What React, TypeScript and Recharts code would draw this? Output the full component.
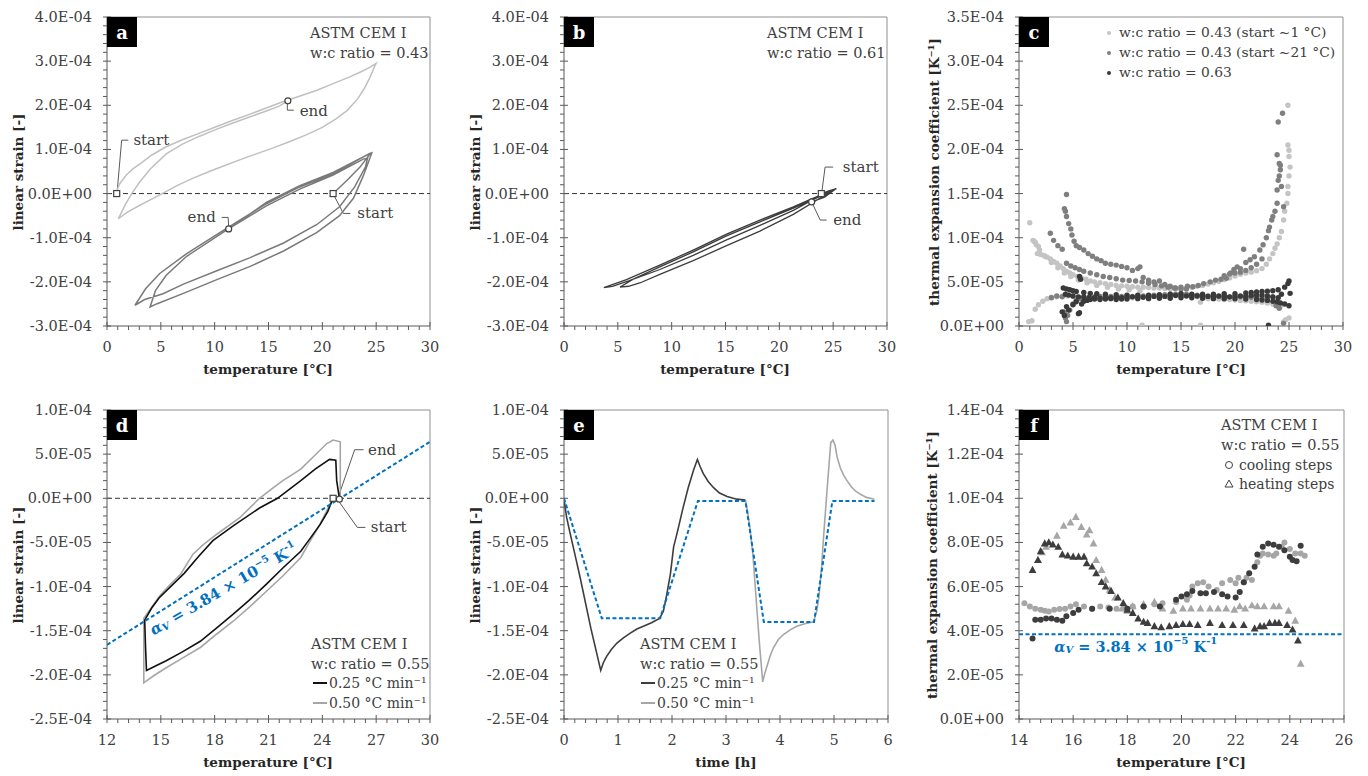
import React from 'react';
import { ComposedChart, Scatter, XAxis, YAxis, ReferenceLine, ReferenceDot } from 'recharts';

type Pt = [number, number];

// ---------- panel a : linear strain [1e-4] vs temperature, w:c 0.43 ----------
const strainA43Cold: Pt[] = [
  [0.9, 0.0], [1.0, 0.12], [1.2, 0.23], [1.8, 0.42], [2.4, 0.56], [3.1, 0.68], [4.2, 0.88], [5.5, 1.06],
  [7.0, 1.22], [8.6, 1.37], [10.2, 1.52], [11.7, 1.66], [13.3, 1.8], [14.8, 1.94], [16.2, 2.07], [17.8, 2.2],
  [19.5, 2.34], [21.0, 2.49], [22.6, 2.65], [23.6, 2.76], [24.4, 2.86], [25.0, 2.95],
  [24.8, 2.85], [24.4, 2.62], [23.9, 2.38], [23.3, 2.15], [22.3, 1.88], [21.2, 1.68], [20.0, 1.5], [18.5, 1.33],
  [17.0, 1.18], [15.5, 1.04], [14.0, 0.91], [12.5, 0.78], [11.0, 0.64], [9.5, 0.5], [8.0, 0.35], [6.5, 0.18],
  [5.3, 0.02], [4.2, -0.12], [3.0, -0.27], [1.9, -0.42], [1.05, -0.57],
  [1.3, -0.45], [1.7, -0.25], [2.3, 0.0], [3.0, 0.25], [4.0, 0.55], [5.5, 0.9], [7.0, 1.12], [8.6, 1.3],
  [10.2, 1.46], [11.7, 1.6], [13.3, 1.74], [14.8, 1.87], [16.0, 1.98], [16.8, 2.1],
];
const strainA43Warm: Pt[] = [
  [21.0, 0.0], [22.3, 0.3], [23.5, 0.6], [24.5, 0.92],
  [24.1, 0.87], [21.0, 0.45], [17.9, 0.15], [14.8, -0.23], [11.1, -0.79], [7.4, -1.36], [4.9, -1.81], [3.6, -2.15], [2.6, -2.53],
  [3.5, -2.4], [5.2, -2.27], [7.1, -2.05], [10.2, -1.75], [13.3, -1.45], [16.4, -1.12], [19.5, -0.7], [21.6, -0.3],
  [23.0, 0.15], [24.0, 0.6], [24.2, 0.8],
  [23.8, 0.78], [21.0, 0.42], [17.9, 0.1], [14.8, -0.28], [11.1, -0.83], [7.4, -1.42], [5.5, -1.85], [4.5, -2.2], [4.0, -2.57],
  [4.6, -2.5], [7.1, -2.26], [10.2, -1.95], [13.3, -1.65], [16.4, -1.3], [19.5, -0.88], [21.6, -0.5], [22.9, -0.1],
  [23.8, 0.4], [24.6, 0.92],
  [24.2, 0.88], [21.0, 0.48], [17.9, 0.18], [14.8, -0.2], [11.3, -0.8],
];

// ---------- panel b : w:c 0.61 ----------
const strainB61: Pt[] = [
  [23.9, 0.0], [24.6, 0.06], [25.3, 0.11],
  [23.0, -0.12], [21.3, -0.3], [18.2, -0.6], [15.1, -0.92], [12.0, -1.28], [8.9, -1.62], [5.8, -1.95], [3.7, -2.13],
  [4.5, -2.1], [6.0, -1.98], [8.9, -1.72], [12.0, -1.4], [15.1, -1.05], [18.2, -0.72], [21.3, -0.38], [23.8, -0.05], [25.1, 0.08],
  [23.0, -0.15], [21.3, -0.33], [18.2, -0.64], [15.1, -0.96], [12.0, -1.32], [8.9, -1.66], [6.5, -1.93], [5.2, -2.12],
  [6.0, -2.1], [7.1, -2.02], [8.9, -1.83], [12.0, -1.52], [15.1, -1.18], [18.2, -0.85], [21.3, -0.47], [23.8, -0.1], [25.2, 0.1],
  [24.2, -0.08], [23.0, -0.19],
];

// ---------- panel c : thermal expansion coefficient [1e-5 K-1] ----------
const cteC43Cold: Pt[] = [
  [1.0, 11.7], [1.3, 9.7], [1.5, 9.5], [1.6, 9.2], [1.8, 9.0], [1.7, 8.2], [2.0, 8.1], [2.3, 8.0], [2.6, 7.8], [2.9, 7.6],
  [3.2, 7.3], [3.5, 7.1], [3.8, 6.8], [4.1, 6.5], [4.4, 6.2], [4.7, 6.0], [5.0, 5.8], [5.4, 5.6], [5.8, 5.45], [6.2, 5.3],
  [6.6, 5.1], [7.0, 5.0], [7.5, 4.9], [8.0, 4.8], [8.5, 4.7], [9.0, 4.6], [9.5, 4.55], [10.0, 4.5], [10.5, 4.45], [11.0, 4.4],
  [11.5, 4.4], [12.0, 4.35], [12.5, 4.3], [13.0, 4.3], [13.5, 4.25], [14.0, 4.2], [14.5, 4.2], [15.0, 4.25], [15.5, 4.3],
  [16.0, 4.4], [16.5, 4.5], [17.0, 4.6], [17.5, 4.75], [18.0, 4.9], [18.5, 5.05], [19.0, 5.25], [19.5, 5.45], [20.0, 5.65],
  [20.5, 5.85], [21.0, 6.0], [21.5, 6.1], [22.0, 6.25], [22.5, 6.5], [22.9, 7.0], [23.2, 7.6], [23.5, 8.2], [23.7, 8.8],
  [23.9, 9.3], [24.1, 10.0], [24.3, 10.7], [24.5, 12.0], [24.6, 13.0], [24.8, 13.9], [24.9, 15.0], [24.9, 15.8], [25.0, 17.0],
  [25.1, 18.0], [25.0, 19.2], [25.0, 19.9], [24.9, 20.5], [24.9, 25.0],
  [1.4, 9.6], [1.9, 8.6], [2.4, 7.9], [3.0, 7.2], [3.6, 6.6], [4.2, 6.0], [4.8, 5.6], [5.5, 5.2], [6.3, 4.9], [7.2, 4.6],
  [8.2, 4.4], [9.2, 4.2], [10.2, 4.1], [11.2, 4.0],
  [0.9, 0.5], [1.2, 0.6], [1.5, 1.9], [1.8, 2.4], [2.2, 2.8], [2.6, 3.1], [3.0, 3.25], [3.5, 3.3], [4.0, 3.4], [4.5, 3.4],
  [5.0, 3.35], [5.5, 3.3], [6.0, 3.3], [6.5, 3.25], [7.0, 3.3], [7.5, 3.25], [8.0, 3.2], [8.5, 3.25], [9.0, 3.2], [9.5, 3.2],
  [10.0, 3.2], [10.5, 3.2], [11.0, 3.25], [11.5, 3.3], [12.0, 3.3], [12.5, 3.35], [13.0, 3.4], [13.5, 3.4], [14.0, 3.4],
  [14.5, 3.5], [15.0, 3.5], [15.5, 3.45], [16.0, 3.4], [16.5, 3.3], [16.8, 2.7], [17.0, 3.2], [17.5, 3.1], [18.0, 3.1],
  [18.5, 3.05], [19.0, 3.0], [19.5, 3.0], [20.0, 2.95], [20.5, 2.9], [21.0, 2.85], [21.5, 2.8], [22.0, 2.75], [22.5, 2.7],
  [23.0, 2.6], [23.5, 2.5], [23.9, 2.35], [24.2, 2.2], [24.5, 0.5], [24.7, 0.7], [25.0, 0.9], [11.4, 0.1], [16.8, 0.1],
];
const cteC43Warm: Pt[] = [
  [2.9, 10.5], [3.2, 9.7], [3.6, 9.1], [4.0, 8.7], [4.2, 13.3], [4.3, 13.0], [4.4, 14.9], [4.4, 12.4], [4.6, 11.6], [4.8, 11.0],
  [4.9, 10.3], [5.1, 9.6], [5.3, 9.1], [5.6, 8.9], [6.0, 8.6], [6.4, 8.2], [6.8, 7.9], [7.2, 7.6], [7.6, 7.4], [8.0, 7.1],
  [8.5, 7.0], [9.0, 6.9], [9.5, 6.75], [10.0, 6.6], [10.5, 6.3], [11.0, 6.5], [11.2, 6.7], [11.5, 5.5], [12.0, 5.2],
  [12.5, 5.0], [13.0, 5.1], [13.5, 4.7], [14.0, 4.5], [14.5, 4.3], [15.0, 4.2], [15.5, 4.2],
  [4.4, 7.1], [4.8, 6.8], [5.2, 6.6], [5.6, 6.4], [6.0, 6.2], [6.6, 6.0], [7.2, 5.8], [7.8, 5.6], [8.4, 5.5], [9.0, 5.35],
  [9.6, 5.2], [10.2, 5.15], [10.8, 5.1], [11.4, 5.0], [12.0, 4.85], [12.6, 4.7], [13.2, 4.55], [13.8, 4.4], [14.4, 4.3],
  [15.0, 4.4], [15.6, 4.5], [16.1, 4.45], [16.6, 4.6], [17.1, 4.8], [17.7, 5.0], [18.2, 5.2], [18.7, 5.3], [19.2, 5.4],
  [19.6, 6.0], [19.9, 6.4], [20.2, 6.7], [20.5, 6.5], [20.8, 8.7], [21.0, 7.2], [21.4, 7.5], [21.8, 7.85], [22.3, 8.6],
  [22.6, 9.2], [22.9, 10.0], [23.1, 10.8], [23.2, 11.2], [23.4, 12.0], [23.5, 12.4], [23.7, 13.0], [23.9, 13.9], [23.9, 15.4],
  [24.0, 16.5], [24.1, 17.0], [24.1, 18.4], [24.2, 17.7], [23.9, 19.4], [24.0, 23.1], [24.4, 24.1], [24.3, 15.8], [24.5, 13.5],
  [24.2, 18.2], [19.0, 5.7], [19.5, 5.9], [20.0, 6.0], [20.5, 6.1], [21.0, 6.3], [21.5, 6.6], [22.0, 7.0], [22.5, 7.6],
  [3.0, 3.2], [3.5, 3.4], [4.0, 3.3], [4.2, 1.6], [4.3, 0.9], [4.4, 0.5], [4.5, 1.2], [4.7, 1.8], [5.0, 2.5], [5.3, 2.9],
  [5.6, 3.1], [6.0, 3.2], [6.5, 3.3], [7.0, 3.3], [7.5, 3.35], [8.0, 3.3], [8.5, 3.35], [9.0, 3.3], [9.5, 3.35], [10.0, 3.4],
  [10.5, 3.35], [11.0, 3.4], [11.5, 3.4], [12.0, 3.45], [12.5, 3.5], [13.0, 3.5], [13.5, 3.55], [14.0, 3.6], [14.5, 3.6],
  [15.0, 3.65], [15.5, 3.6], [16.0, 3.55], [16.5, 3.5], [17.0, 3.45], [17.5, 3.4], [18.0, 3.4], [18.5, 3.35], [19.0, 3.35],
  [19.5, 3.3], [20.0, 3.3], [20.5, 3.3], [21.0, 3.3], [21.5, 3.25], [22.0, 3.25], [22.5, 3.2], [23.0, 3.2], [23.5, 3.3],
  [23.8, 2.3], [24.1, 2.0], [24.5, 0.3],
];
const cteC63: Pt[] = [
  [4.1, 4.3], [4.4, 4.2], [4.7, 4.1], [5.0, 4.0], [5.3, 3.9], [5.6, 5.6], [5.7, 5.3], [6.0, 3.8], [6.6, 3.7], [7.2, 3.65],
  [8.0, 3.6], [9.0, 3.55], [10.0, 3.5], [11.0, 3.5], [12.0, 3.5], [13.0, 3.55], [14.0, 3.6], [15.0, 3.65], [16.0, 3.6],
  [17.0, 3.6], [18.0, 3.6], [19.0, 3.65], [20.0, 3.65], [21.0, 3.75], [21.5, 3.8], [22.0, 3.85], [22.5, 3.9], [23.0, 3.95],
  [23.5, 4.0], [24.0, 4.1], [24.3, 3.6], [24.6, 4.4], [24.9, 4.8], [25.0, 5.1], [25.1, 3.7],
  [4.3, 3.6], [4.6, 3.5], [5.0, 3.4], [5.5, 3.3], [6.0, 3.3], [6.5, 3.2], [7.0, 3.2], [7.5, 3.15], [8.0, 3.2], [8.5, 3.2],
  [9.0, 3.25], [9.5, 3.2], [10.0, 3.25], [10.5, 3.3], [11.0, 3.3], [11.5, 3.25], [12.0, 3.3], [12.5, 3.35], [13.0, 3.3],
  [13.5, 3.35], [14.0, 3.4], [14.5, 3.45], [15.0, 3.4], [15.5, 3.4], [16.0, 3.45], [16.5, 3.4], [17.0, 3.4], [17.5, 3.35],
  [18.0, 3.35], [18.5, 3.4], [19.0, 3.35], [19.5, 3.3], [20.0, 3.35], [20.5, 3.4], [21.0, 3.35], [21.5, 3.45], [22.0, 3.5],
  [22.5, 3.5], [23.0, 3.4], [23.5, 3.3], [24.0, 3.2],
  [4.0, 1.6], [4.2, 1.2], [4.4, 2.2], [4.6, 1.8], [5.0, 2.4], [5.3, 2.75], [5.5, 1.4], [5.6, 1.5], [5.8, 2.5], [6.0, 2.8],
  [6.3, 2.9], [6.6, 3.0], [7.0, 3.05], [7.5, 3.0], [8.0, 3.05], [8.5, 3.1], [9.0, 3.0], [9.5, 3.05], [10.0, 3.05],
  [11.0, 3.1], [12.0, 3.1], [13.0, 3.15], [14.0, 3.15], [15.0, 3.2], [16.0, 3.2], [17.0, 3.15], [18.0, 3.1], [19.0, 3.1],
  [20.0, 3.1], [21.0, 3.05], [22.0, 3.0], [22.5, 2.95], [23.0, 2.9], [23.5, 2.8], [23.9, 2.75], [24.2, 2.6], [24.6, 2.5],
  [25.0, 2.3], [23.1, 0.1],
];

// ---------- panel d : linear strain [1e-5] vs temperature, w:c 0.55 ----------
const strainD025: Pt[] = [
  [24.6, 0.0], [24.3, -1.5], [23.9, -2.9], [23.3, -4.6], [22.8, -6.0], [21.8, -7.9], [20.9, -9.7], [19.9, -11.6],
  [19.05, -13.1], [18.1, -14.7], [17.2, -16.2], [16.2, -17.4], [15.3, -18.4], [14.7, -19.0], [14.2, -19.5], [14.15, -17.0],
  [14.1, -13.8], [14.5, -12.4], [14.9, -11.3], [15.6, -9.9], [16.3, -8.5], [17.1, -6.6], [17.9, -4.8], [19.05, -3.1],
  [20.5, -1.1], [21.5, 0.0], [22.8, 2.0], [23.6, 3.3], [24.4, 4.4], [24.75, 4.3], [24.8, 2.0], [24.95, 0.0],
];
const strainD050: Pt[] = [
  [24.6, 0.0], [24.3, -1.2], [23.8, -3.2], [23.3, -4.9], [22.8, -6.7], [21.8, -8.8], [20.9, -10.5], [19.95, -12.3],
  [19.05, -13.9], [18.1, -15.4], [17.2, -16.9], [16.2, -18.1], [15.3, -19.2], [14.6, -20.1], [14.05, -20.9], [14.05, -17.0],
  [14.05, -13.6], [14.5, -12.3], [15.0, -10.9], [15.6, -9.6], [16.1, -8.6], [16.8, -6.3], [17.4, -5.2], [18.1, -4.1],
  [19.4, -2.2], [20.5, 0.0], [21.2, 1.1], [21.8, 2.0], [22.8, 3.3], [23.5, 4.7], [24.25, 6.2], [24.6, 6.6], [25.0, 6.4],
  [25.0, 3.0], [25.0, 0.0],
];
const fitD: Pt[] = [[12, -16.6], [30, 6.4]];

// ---------- panel e : linear strain [1e-5] vs time [h] ----------
const timeE025: Pt[] = [
  [0, 0], [0.02, -1.0], [0.05, -2.2], [0.1, -3.6], [0.2, -6.3], [0.3, -9.0], [0.4, -11.9], [0.5, -14.8], [0.6, -17.4],
  [0.68, -19.5], [0.73, -18.6], [0.79, -17.9], [0.88, -17.1], [0.98, -16.4], [1.1, -15.8], [1.22, -15.3], [1.35, -14.8],
  [1.47, -14.5], [1.62, -14.1], [1.77, -13.6], [1.84, -12.8], [1.9, -11.0], [1.97, -8.6], [2.03, -5.5], [2.1, -3.8],
  [2.2, -1.2], [2.3, 1.2], [2.4, 3.2], [2.47, 4.4], [2.52, 3.6], [2.58, 2.8], [2.67, 1.9], [2.77, 1.2], [2.88, 0.6],
  [3.02, 0.2], [3.2, -0.1], [3.36, -0.2],
];
const timeE050: Pt[] = [
  [3.36, -0.2], [3.4, -1.5], [3.45, -3.7], [3.5, -6.5], [3.57, -12.4], [3.62, -16.5], [3.68, -20.8], [3.72, -19.8],
  [3.76, -19.0], [3.82, -17.8], [3.88, -16.9], [3.97, -16.0], [4.07, -15.4], [4.19, -14.9], [4.31, -14.5], [4.46, -14.2],
  [4.62, -14.0], [4.68, -12.8], [4.72, -11.2], [4.77, -7.8], [4.81, -4.1], [4.87, 0.8], [4.91, 4.0], [4.94, 6.3],
  [4.98, 6.6], [5.02, 6.0], [5.06, 4.6], [5.12, 3.4], [5.18, 2.6], [5.24, 2.0], [5.32, 1.3], [5.4, 0.8], [5.49, 0.45],
  [5.6, 0.1], [5.75, -0.1],
];
const progE: Pt[] = [
  [0, 0], [0.7, -13.6], [1.78, -13.6], [2.48, -0.3], [3.36, -0.3], [3.7, -14.0], [4.63, -14.0], [4.97, -0.3], [5.75, -0.3],
];

// ---------- panel f : thermal expansion coefficient [1e-5 K-1], w:c 0.55 ----------
const coolF050: Pt[] = [
  [14.2, 5.25], [14.4, 5.1], [14.6, 5.0], [14.8, 4.95], [14.95, 4.9], [15.1, 4.87], [15.3, 4.95], [15.5, 4.98], [15.7, 5.0],
  [15.9, 5.1], [16.1, 5.2], [16.4, 5.1], [16.7, 5.0], [17.0, 5.1], [17.3, 5.05], [17.6, 5.0], [17.9, 5.05], [18.2, 5.1],
  [18.6, 5.1], [19.0, 5.2], [19.3, 5.25], [19.8, 5.3], [20.2, 5.4], [20.3, 5.6], [20.4, 6.0], [20.6, 6.15], [20.8, 6.2],
  [21.0, 6.0], [21.3, 5.85], [21.5, 6.15], [21.8, 6.3], [22.0, 6.15], [22.1, 6.4], [22.3, 6.2], [22.4, 6.4], [22.6, 6.3],
  [22.8, 7.1], [22.9, 7.4], [23.0, 7.5], [23.2, 7.45], [23.4, 7.4], [23.5, 7.5], [23.7, 7.8], [23.8, 8.0], [24.0, 7.7],
  [24.2, 7.5], [24.4, 7.5], [24.55, 7.4],
];
const coolF025: Pt[] = [
  [14.5, 3.65], [14.6, 4.5], [14.8, 4.5], [15.0, 4.55], [15.2, 4.55], [15.4, 4.5], [15.6, 4.45], [15.75, 4.65], [16.0, 4.8],
  [16.2, 4.95], [16.7, 5.0], [17.35, 5.0], [18.0, 5.0], [18.6, 5.1], [19.2, 5.1], [19.8, 5.4], [20.0, 5.55], [20.2, 5.65],
  [20.4, 5.8], [20.7, 5.7], [20.9, 5.7], [21.2, 5.75], [21.5, 5.65], [21.7, 5.55], [22.0, 5.5], [22.15, 5.75], [22.3, 6.2],
  [22.5, 6.6], [22.7, 6.9], [22.8, 7.45], [23.0, 7.8], [23.2, 7.95], [23.4, 7.9], [23.6, 7.8], [23.8, 7.65], [24.0, 7.35],
  [24.1, 7.2], [24.25, 7.15], [24.4, 7.85],
];
const heatF050: Pt[] = [
  [14.7, 7.2], [14.85, 7.55], [15.0, 7.8], [15.4, 8.3], [15.65, 8.75], [15.9, 8.9], [16.1, 9.15], [16.3, 8.7], [16.5, 8.35],
  [16.6, 8.55], [16.75, 7.95], [16.85, 7.2], [17.05, 6.75], [17.2, 6.3], [17.35, 5.85], [17.55, 5.5], [17.8, 5.0], [18.0, 4.9],
  [18.2, 5.1], [18.6, 5.2], [19.0, 5.3], [19.3, 5.0], [19.7, 4.9], [20.05, 5.0], [20.35, 5.0], [20.7, 5.0], [21.05, 5.0],
  [21.35, 5.0], [21.65, 5.0], [21.95, 4.95], [22.15, 5.1], [22.35, 5.0], [22.6, 5.15], [22.8, 5.1], [23.05, 5.1], [23.4, 5.1],
  [23.6, 5.1], [23.95, 4.9], [24.2, 4.45], [24.4, 2.5],
];
const heatF025: Pt[] = [
  [14.5, 6.75], [14.7, 7.2], [14.8, 7.6], [14.95, 7.95], [15.1, 8.0], [15.25, 7.9], [15.45, 7.8], [15.6, 7.45], [15.8, 7.4],
  [16.0, 7.35], [16.2, 7.35], [16.4, 7.35], [16.5, 7.05], [16.7, 6.9], [16.85, 6.6], [17.05, 6.2], [17.2, 6.0], [17.4, 5.8],
  [17.65, 5.5], [17.85, 5.25], [18.0, 4.95], [18.2, 4.8], [18.4, 4.55], [18.6, 4.4], [18.75, 4.35], [19.0, 4.2], [19.25, 4.15],
  [19.55, 4.2], [19.8, 4.25], [20.05, 4.3], [20.3, 4.3], [20.6, 4.25], [21.05, 4.35], [21.5, 4.25], [21.9, 4.25], [22.3, 4.25],
  [22.7, 4.1], [22.9, 4.2], [23.05, 4.2], [23.25, 4.35], [23.45, 4.35], [23.6, 4.35], [23.9, 4.25], [24.1, 4.05], [24.3, 3.55],
];
const alphaV = 3.84;

// ---------- axis tick values ----------
const tempTicks30 = [0, 5, 10, 15, 20, 25, 30];
const tempTicksD = [12, 15, 18, 21, 24, 27, 30];
const tempTicksF = [14, 16, 18, 20, 22, 24, 26];
const timeTicks = [0, 1, 2, 3, 4, 5, 6];
const strainTicksAB = [-3, -2, -1, 0, 1, 2, 3, 4]; // x1e-4
const cteTicksC = [0, 5, 10, 15, 20, 25, 30, 35]; // x1e-5
const strainTicksDE = [-25, -20, -15, -10, -5, 0, 5, 10]; // x1e-5
const cteTicksF = [0, 2, 4, 6, 8, 10, 12, 14]; // x1e-5

const SERIF = '"DejaVu Serif", "Liberation Serif", serif';
const INK = '#404040';
const AXIS = '#595959';
const FRAME = '#8f8f8f';
const BLUE = '#0070c0';
const LIGHT = '#c0c0c0';
const MID = '#7a7a7a';
const DARK = '#3d3d3d';
const GREY = '#a6a6a6';

const xy = (a: Pt[]) => a.map(([x, y]) => ({ x, y }));

function sci(v: number): string {
  if (Math.abs(v) < 1e-15) return '0.0E+00';
  const e = Math.floor(Math.log10(Math.abs(v)) + 1e-9);
  const m = v / Math.pow(10, e);
  return `${m.toFixed(1)}E${e < 0 ? '-' : '+'}${String(Math.abs(e)).padStart(2, '0')}`;
}

function steps(a: number, b: number, s: number) {
  const n = Math.round((b - a) / s);
  return Array.from({ length: n + 1 }, (_, i) => +(a + i * s).toFixed(6));
}

const isMajor = (major: number[], v: number) => major.some((m) => Math.abs(m - v) < 1e-6);

function XTick(props: any) {
  const { x, y, payload, major, fmt } = props;
  const big = isMajor(major, payload.value);
  return (
    <g>
      <line x1={x} x2={x} y1={big ? y - 4 : y} y2={y + 4} stroke={AXIS} strokeWidth={1} />
      {big && (
        <text x={x} y={y + 21} textAnchor="middle" dominantBaseline="central" fontFamily={SERIF} fontSize={14.5} fill={INK}>
          {fmt(payload.value)}
        </text>
      )}
    </g>
  );
}

function YTick(props: any) {
  const { x, y, payload, major, fmt } = props;
  const big = isMajor(major, payload.value);
  return (
    <g>
      <line x1={x - 4} x2={big ? x + 4 : x} y1={y} y2={y} stroke={AXIS} strokeWidth={1} />
      {big && (
        <text x={x - 15} y={y} textAnchor="end" dominantBaseline="central" fontFamily={SERIF} fontSize={14.5} fill={INK}>
          {fmt(payload.value)}
        </text>
      )}
    </g>
  );
}

const NoDot = () => <g />;
const dot = (fill: string, r: number) => (p: any) => <circle cx={p.cx} cy={p.cy} r={r} fill={fill} />;
const tri = (fill: string) => (p: any) => (
  <polygon points={`${p.cx},${p.cy - 4.2} ${p.cx - 3.9},${p.cy + 2.9} ${p.cx + 3.9},${p.cy + 2.9}`} fill={fill} />
);
const square = (p: any) => <rect x={p.cx - 3} y={p.cy - 3} width={6} height={6} fill="#fff" stroke={INK} strokeWidth={1.2} />;
const ring = (p: any) => <circle cx={p.cx} cy={p.cy} r={3} fill="#fff" stroke={INK} strokeWidth={1.2} />;
const word = (text: string, anchor: 'start' | 'end' = 'start') => (p: any) => (
  <text x={p.cx} y={p.cy} textAnchor={anchor} dominantBaseline="central" fontFamily={SERIF} fontSize={15} fill={INK}>
    {text}
  </text>
);

function AlphaText({ x, y, angle = 0, size = 15 }: { x: number; y: number; angle?: number; size?: number }) {
  const s = Math.round(size * 0.66);
  return (
    <text x={x} y={y} transform={angle ? `rotate(${angle} ${x} ${y})` : undefined} textAnchor={angle ? 'middle' : 'start'}
      dominantBaseline="central" fontFamily={SERIF} fontSize={size} fontWeight="bold" fill={BLUE}>
      <tspan fontStyle="italic">α</tspan>
      <tspan fontSize={s} dy={3} fontStyle="italic">V</tspan>
      <tspan dy={-3}> = 3.84 × 10</tspan>
      <tspan fontSize={s} dy={-6}>−5</tspan>
      <tspan dy={6}> K</tspan>
      <tspan fontSize={s} dy={-6}>-1</tspan>
    </text>
  );
}

function trace(key: string, data: Pt[], color: string, width = 1.5, dash?: string) {
  return (
    <Scatter key={key} data={xy(data)} shape={NoDot} line={{ stroke: color, strokeWidth: width, strokeDasharray: dash }}
      lineType="joint" isAnimationActive={false} />
  );
}

function points(key: string, data: Pt[], shape: (p: any) => React.ReactElement) {
  return <Scatter key={key} data={xy(data)} shape={shape} isAnimationActive={false} />;
}

function leader(key: string, pts: Pt[]) {
  return pts.slice(1).map((p, i) => (
    <ReferenceLine key={`${key}${i}`} segment={[{ x: pts[i][0], y: pts[i][1] }, { x: p[0], y: p[1] }]} stroke={AXIS} strokeWidth={1} />
  ));
}

type PanelProps = {
  left: number;
  top: number;
  plotW: number;
  xDomain: [number, number];
  xMajor: number[];
  xMinor: number;
  yDomain: [number, number];
  yMajor: number[];
  yMinor: number;
  yUnit: number;
  children: React.ReactNode;
};

function Panel({ left, top, plotW, xDomain, xMajor, xMinor, yDomain, yMajor, yMinor, yUnit, children }: PanelProps) {
  return (
    <div style={{ position: 'absolute', left, top }}>
      <ComposedChart width={450} height={390} margin={{ top: 17, right: 450 - 107 - plotW, bottom: 0, left: 0 }}>
        <XAxis type="number" dataKey="x" domain={xDomain} allowDataOverflow ticks={steps(xDomain[0], xDomain[1], xMinor)}
          interval={0} tickLine={false} tickSize={0} tickMargin={0} height={64} axisLine={{ stroke: AXIS }}
          tick={<XTick major={xMajor} fmt={(v: number) => String(v)} />} />
        <YAxis type="number" dataKey="y" domain={yDomain} allowDataOverflow ticks={steps(yDomain[0], yDomain[1], yMinor)}
          interval={0} tickLine={false} tickSize={0} tickMargin={0} width={107} axisLine={{ stroke: AXIS }}
          tick={<YTick major={yMajor} fmt={(v: number) => sci(v * yUnit)} />} />
        <ReferenceLine y={yDomain[1]} stroke={FRAME} />
        <ReferenceLine x={xDomain[1]} stroke={FRAME} />
        {children}
      </ComposedChart>
    </div>
  );
}

function Note({ x, y, children, size = 14.5, bold = false, color = INK, anchor = 'left' }:
  { x: number; y: number; children: React.ReactNode; size?: number; bold?: boolean; color?: string; anchor?: 'left' | 'center' }) {
  return (
    <div style={{
      position: 'absolute', left: x, top: y, transform: anchor === 'center' ? 'translate(-50%, -50%)' : 'translateY(-50%)',
      fontFamily: SERIF, fontSize: size, fontWeight: bold ? 'bold' : 'normal', color, whiteSpace: 'nowrap', lineHeight: 1,
    }}>
      {children}
    </div>
  );
}

function YTitle({ x, y, children }: { x: number; y: number; children: React.ReactNode }) {
  return (
    <div style={{
      position: 'absolute', left: x, top: y, transform: 'translate(-50%, -50%) rotate(-90deg)', fontFamily: SERIF,
      fontSize: 13.5, fontWeight: 'bold', color: '#262626', whiteSpace: 'nowrap', lineHeight: 1,
    }}>
      {children}
    </div>
  );
}

function Tag({ x, y, letter }: { x: number; y: number; letter: string }) {
  return (
    <div style={{
      position: 'absolute', left: x, top: y, width: 30, height: 30, background: '#000', color: '#fff', fontFamily: SERIF,
      fontWeight: 'bold', fontSize: 18, display: 'flex', alignItems: 'center', justifyContent: 'center',
    }}>
      {letter}
    </div>
  );
}

function Swatch({ x, y, color }: { x: number; y: number; color: string }) {
  return <div style={{ position: 'absolute', left: x, top: y - 1, width: 14, height: 2, background: color }} />;
}

function Dot({ x, y, color }: { x: number; y: number; color: string }) {
  return <div style={{ position: 'absolute', left: x - 2, top: y - 2, width: 4, height: 4, borderRadius: 2, background: color }} />;
}

const zeroLine = <ReferenceLine key="zero" y={0} stroke="#333" strokeDasharray="5 3" strokeWidth={1} />;

export default function App() {
  return (
    <div style={{ position: 'absolute', left: 0, top: 0, width: 1368, height: 776, background: '#fff', overflow: 'hidden' }}>
      {/* a */}
      <Panel left={0} top={0} plotW={323} xDomain={[0, 30]} xMajor={tempTicks30} xMinor={1} yDomain={[-3, 4]}
        yMajor={strainTicksAB} yMinor={0.2} yUnit={1e-4}>
        {zeroLine}
        {trace('a1', strainA43Cold, LIGHT, 1.5)}
        {trace('a2', strainA43Warm, MID, 1.5)}
        {leader('la1', [[0.95, 0.06], [1.36, 1.21], [1.98, 1.21]])}
        {leader('la2', [[16.75, 2.04], [16.75, 1.89], [17.35, 1.89]])}
        {leader('la3', [[21.1, -0.05], [21.95, -0.45], [22.6, -0.45]])}
        {leader('la4', [[11.3, -0.74], [11.25, -0.54], [10.65, -0.54]])}
        <ReferenceDot x={0.9} y={0} shape={square} />
        <ReferenceDot x={16.8} y={2.1} shape={ring} />
        <ReferenceDot x={21.0} y={0} shape={square} />
        <ReferenceDot x={11.3} y={-0.8} shape={ring} />
        <ReferenceDot x={2.45} y={1.21} shape={word('start')} />
        <ReferenceDot x={17.9} y={1.87} shape={word('end')} />
        <ReferenceDot x={23.25} y={-0.45} shape={word('start')} />
        <ReferenceDot x={10.1} y={-0.54} shape={word('end', 'end')} />
      </Panel>
      {/* b */}
      <Panel left={457} top={0} plotW={323} xDomain={[0, 30]} xMajor={tempTicks30} xMinor={1} yDomain={[-3, 4]}
        yMajor={strainTicksAB} yMinor={0.2} yUnit={1e-4}>
        {zeroLine}
        {trace('b1', strainB61, DARK, 1.3)}
        {leader('lb1', [[23.95, 0.04], [24.25, 0.6], [25.0, 0.6]])}
        {leader('lb2', [[23.1, -0.24], [23.8, -0.6], [24.4, -0.6]])}
        <ReferenceDot x={23.9} y={0} shape={square} />
        <ReferenceDot x={23.0} y={-0.19} shape={ring} />
        <ReferenceDot x={25.9} y={0.6} shape={word('start')} />
        <ReferenceDot x={25.0} y={-0.61} shape={word('end')} />
      </Panel>
      {/* c */}
      <Panel left={912} top={0} plotW={324} xDomain={[0, 30]} xMajor={tempTicks30} xMinor={1} yDomain={[0, 35]}
        yMajor={cteTicksC} yMinor={1} yUnit={1e-5}>
        {points('c1', cteC43Cold, dot('#c4c4c4', 2.7))}
        {points('c2', cteC43Warm, dot('#7f7f7f', 2.7))}
        {points('c3', cteC63, dot('#3a3a3a', 2.7))}
      </Panel>
      {/* d */}
      <Panel left={0} top={393} plotW={323} xDomain={[12, 30]} xMajor={tempTicksD} xMinor={0.6} yDomain={[-25, 10]}
        yMajor={strainTicksDE} yMinor={1} yUnit={1e-5}>
        {zeroLine}
        {trace('d2', strainD050, GREY, 1.6)}
        {trace('d1', strainD025, '#111', 1.6)}
        {trace('d3', fitD, BLUE, 2, '4 2.5')}
        {leader('ld1', [[24.9, 0.2], [25.8, 5.5], [26.3, 5.5]])}
        {leader('ld2', [[24.9, -0.3], [25.95, -3.3], [26.4, -3.3]])}
        <ReferenceDot x={24.6} y={0} shape={square} />
        <ReferenceDot x={24.95} y={-0.1} shape={ring} />
        <ReferenceDot x={26.55} y={5.5} shape={word('end')} />
        <ReferenceDot x={26.7} y={-3.3} shape={word('start')} />
        <ReferenceDot x={18.5} y={-10.3} shape={(p: any) => <AlphaText x={p.cx} y={p.cy} angle={-30} size={15} />} />
      </Panel>
      {/* e */}
      <Panel left={457} top={393} plotW={324} xDomain={[0, 6]} xMajor={timeTicks} xMinor={0.2} yDomain={[-25, 10]}
        yMajor={strainTicksDE} yMinor={1} yUnit={1e-5}>
        {trace('e1', timeE025, DARK, 1.6)}
        {trace('e2', timeE050, GREY, 1.6)}
        {trace('e3', progE, BLUE, 2, '4 2.5')}
      </Panel>
      {/* f */}
      <Panel left={912} top={393} plotW={325} xDomain={[14, 26]} xMajor={tempTicksF} xMinor={0.4} yDomain={[0, 14]}
        yMajor={cteTicksF} yMinor={0.4} yUnit={1e-5}>
        <ReferenceLine y={alphaV} stroke={BLUE} strokeWidth={2} strokeDasharray="4 2.5" />
        {points('f1', coolF050, dot(GREY, 3))}
        {points('f2', heatF050, tri(GREY))}
        {points('f3', coolF025, dot(DARK, 3))}
        {points('f4', heatF025, tri(DARK))}
        <ReferenceDot x={15.3} y={3.31} shape={(p: any) => <AlphaText x={p.cx} y={p.cy} size={14.5} />} />
      </Panel>

      {/* panel tags */}
      <Tag x={107} y={17} letter="a" />
      <Tag x={564} y={17} letter="b" />
      <Tag x={1019} y={17} letter="c" />
      <Tag x={107} y={410} letter="d" />
      <Tag x={564} y={410} letter="e" />
      <Tag x={1019} y={410} letter="f" />

      {/* axis titles */}
      <YTitle x={19} y={172}>linear strain [-]</YTitle>
      <YTitle x={476} y={172}>linear strain [-]</YTitle>
      <YTitle x={935} y={172}>thermal expansion coefficient [K⁻¹]</YTitle>
      <YTitle x={19} y={565}>linear strain [-]</YTitle>
      <YTitle x={476} y={565}>linear strain [-]</YTitle>
      <YTitle x={933} y={565}>thermal expansion coefficient [K⁻¹]</YTitle>
      <Note x={268} y={370} size={13.5} bold anchor="center" color="#262626">temperature [°C]</Note>
      <Note x={725} y={370} size={13.5} bold anchor="center" color="#262626">temperature [°C]</Note>
      <Note x={1181} y={370} size={13.5} bold anchor="center" color="#262626">temperature [°C]</Note>
      <Note x={268} y={763} size={13.5} bold anchor="center" color="#262626">temperature [°C]</Note>
      <Note x={726} y={763} size={13.5} bold anchor="center" color="#262626">time [h]</Note>
      <Note x={1181} y={763} size={13.5} bold anchor="center" color="#262626">temperature [°C]</Note>

      {/* panel notes */}
      <Note x={310} y={33}>ASTM CEM I</Note>
      <Note x={310} y={53}>w:c ratio = 0.43</Note>
      <Note x={767} y={33}>ASTM CEM I</Note>
      <Note x={767} y={53}>w:c ratio = 0.61</Note>

      <Dot x={1109} y={33} color="#c4c4c4" />
      <Dot x={1109} y={53} color="#7f7f7f" />
      <Dot x={1109} y={73} color="#3a3a3a" />
      <Note x={1119} y={33} size={13.8}>w:c ratio = 0.43 (start ~1 °C)</Note>
      <Note x={1119} y={53} size={13.8}>w:c ratio = 0.43 (start ~21 °C)</Note>
      <Note x={1119} y={73} size={13.8}>w:c ratio = 0.63</Note>

      <Note x={311} y={644}>ASTM CEM I</Note>
      <Note x={311} y={664}>w:c ratio = 0.55</Note>
      <Swatch x={313} y={683} color="#111" />
      <Note x={329} y={683} size={14}>0.25 °C min⁻¹</Note>
      <Swatch x={313} y={703} color={GREY} />
      <Note x={329} y={703} size={14}>0.50 °C min⁻¹</Note>

      <Note x={640} y={644}>ASTM CEM I</Note>
      <Note x={640} y={664}>w:c ratio = 0.55</Note>
      <Swatch x={641} y={683} color={DARK} />
      <Note x={657} y={683} size={14}>0.25 °C min⁻¹</Note>
      <Swatch x={641} y={703} color={GREY} />
      <Note x={657} y={703} size={14}>0.50 °C min⁻¹</Note>

      <Note x={1221} y={425}>ASTM CEM I</Note>
      <Note x={1221} y={445}>w:c ratio = 0.55</Note>
      <svg style={{ position: 'absolute', left: 1223, top: 458 }} width={14} height={34}>
        <circle cx={6} cy={7} r={3.5} fill="none" stroke={INK} strokeWidth={1} />
        <polygon points="6,22 2,29 10,29" fill="none" stroke={INK} strokeWidth={1} />
      </svg>
      <Note x={1239} y={465} size={14}>cooling steps</Note>
      <Note x={1239} y={484} size={14}>heating steps</Note>
    </div>
  );
}
